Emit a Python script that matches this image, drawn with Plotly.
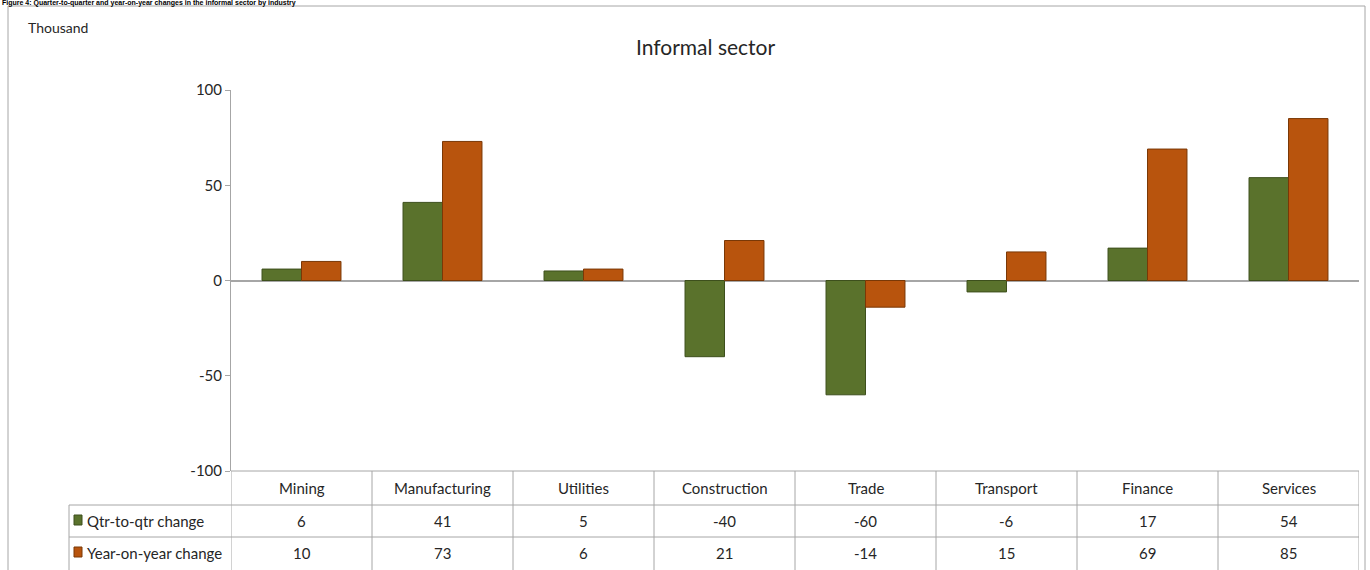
import plotly.graph_objects as go

categories = ["Mining", "Manufacturing", "Utilities", "Construction", "Trade", "Transport", "Finance", "Services"]
qtr_change = [6, 41, 5, -40, -60, -6, 17, 54]
yoy_change = [10, 73, 6, 21, -14, 15, 69, 85]
series_names = ["Qtr-to-qtr change", "Year-on-year change"]
y_ticks = [-100, -50, 0, 50, 100]
y_tick_labels = ["-100", "-50", "0", "50", "100"]

W, H = 1370, 570
L, R, T, B = 231, 11, 90, 99
PW = W - L - R
PH = H - T - B

def px_x(p):
    return (p - L) / PW

def px_y(p):
    return (H - B - p) / PH

GREEN = "#5a722c"
GREEN_LINE = "#3d4f1c"
ORANGE = "#b8540d"
ORANGE_LINE = "#7a3806"
GRID = "#a6a6a6"
FONT = "Lato"
TXT = "#262626"

fig = go.Figure()
fig.add_trace(go.Bar(x=categories, y=qtr_change, name=series_names[0],
                     marker=dict(color=GREEN, line=dict(color=GREEN_LINE, width=1))))
fig.add_trace(go.Bar(x=categories, y=yoy_change, name=series_names[1],
                     marker=dict(color=ORANGE, line=dict(color=ORANGE_LINE, width=1))))

shapes = []
ann = []

# outer chart border
shapes.append(dict(type="rect", xref="paper", yref="paper",
                   x0=px_x(8), x1=px_x(1365), y0=px_y(590), y1=px_y(6),
                   line=dict(color=GRID, width=1), fillcolor="rgba(0,0,0,0)", layer="below"))

# table horizontal lines
LEFT_COL = 69
shapes.append(dict(type="line", xref="paper", yref="paper", x0=0, x1=1,
                   y0=px_y(471), y1=px_y(471), line=dict(color=GRID, width=1)))
for p in [505, 537]:
    shapes.append(dict(type="line", xref="paper", yref="paper", x0=px_x(LEFT_COL), x1=1,
                       y0=px_y(p), y1=px_y(p), line=dict(color=GRID, width=1)))
# table vertical lines at category boundaries
for i in range(len(categories) + 1):
    shapes.append(dict(type="line", xref="x", yref="paper", x0=i - 0.5, x1=i - 0.5,
                       y0=px_y(471), y1=px_y(590), line=dict(color=GRID, width=1)))
shapes.append(dict(type="line", xref="paper", yref="paper", x0=px_x(LEFT_COL), x1=px_x(LEFT_COL),
                   y0=px_y(505), y1=px_y(590), line=dict(color=GRID, width=1)))

# header row & values
for i, c in enumerate(categories):
    ann.append(dict(x=c, xref="x", y=px_y(488), yref="paper", text=c, showarrow=False,
                    font=dict(family=FONT, size=15, color=TXT), xanchor="center", yanchor="middle"))
    ann.append(dict(x=c, xref="x", y=px_y(521), yref="paper", text=str(qtr_change[i]), showarrow=False,
                    font=dict(family=FONT, size=15, color=TXT), xanchor="center", yanchor="middle"))
    ann.append(dict(x=c, xref="x", y=px_y(553), yref="paper", text=str(yoy_change[i]), showarrow=False,
                    font=dict(family=FONT, size=15, color=TXT), xanchor="center", yanchor="middle"))

# legend keys in table
for name, col, lc, yc in [(series_names[0], GREEN, GREEN_LINE, 520), (series_names[1], ORANGE, ORANGE_LINE, 552)]:
    shapes.append(dict(type="rect", xref="paper", yref="paper",
                       x0=px_x(74), x1=px_x(82), y0=px_y(yc + 5), y1=px_y(yc - 5),
                       fillcolor=col, line=dict(color=lc, width=1)))
    ann.append(dict(x=px_x(85), xref="paper", y=px_y(yc + 1), yref="paper", text=name, showarrow=False,
                    font=dict(family=FONT, size=15, color=TXT), xanchor="left", yanchor="middle"))

# texts
ann.append(dict(x=px_x(26), xref="paper", y=px_y(27), yref="paper", text="Thousand", showarrow=False,
                font=dict(family=FONT, size=14, color=TXT), xanchor="left", yanchor="middle"))
ann.append(dict(x=px_x(705), xref="paper", y=px_y(47), yref="paper", text="Informal sector", showarrow=False,
                font=dict(family=FONT, size=21, color=TXT), xanchor="center", yanchor="middle"))
ann.append(dict(x=px_x(0), xref="paper", y=px_y(3), yref="paper",
                text="<b>Figure 4: Quarter-to-quarter and year-on-year changes in the informal sector by industry</b>",
                showarrow=False, font=dict(family="Liberation Sans", size=7, color="#000000"),
                xanchor="left", yanchor="middle"))

fig.update_layout(
    width=W, height=H,
    margin=dict(l=L, r=R, t=T, b=B, autoexpand=False),
    paper_bgcolor="white", plot_bgcolor="white",
    barmode="group", bargap=0.44, bargroupgap=0,
    showlegend=False,
    shapes=shapes, annotations=ann,
    font=dict(family=FONT, size=15, color=TXT),
)
fig.update_xaxes(showticklabels=False, ticks="", showline=False, showgrid=False, zeroline=False,
                 range=[-0.5, len(categories) - 0.5])
fig.update_yaxes(range=[-100, 100], tickvals=y_ticks, ticktext=y_tick_labels,
                 ticks="outside", ticklen=5, tickcolor=GRID,
                 showline=True, linecolor=GRID, linewidth=1, showgrid=False,
                 zeroline=True, zerolinecolor=GRID, zerolinewidth=1.5,
                 tickfont=dict(family=FONT, size=15, color=TXT))

fig.write_html("out.html", config={"displayModeBar": False},
               post_script="document.body.style.margin='0';")
